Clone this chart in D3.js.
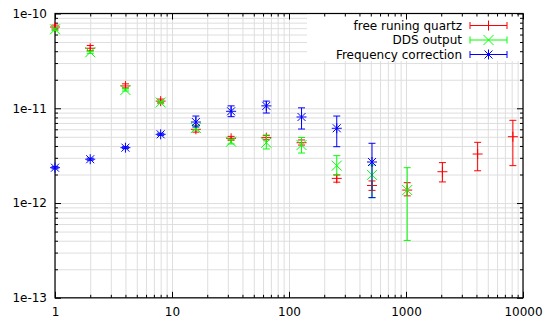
<!DOCTYPE html>
<html><head><meta charset="utf-8">
<script src="https://cdn.jsdelivr.net/npm/d3@7"></script>
<style>body{margin:0;background:#fff}svg{display:block}text{font-family:"DejaVu Sans",sans-serif;font-size:12px;fill:#000}</style>
</head><body><svg id="c" width="546" height="326"></svg>
<script>
const taus = [1,2,4,8,16,32,64,128,256,512,1024,2048,4096,8192];
const seriesNames = ["free runing quartz","DDS output","Frequency correction"];
const quartzVal  = [7.2e-11,4.3e-11,1.72e-11,1.19e-11,6.0e-12,4.82e-12,4.9e-12,4.33e-12,1.82e-12,1.53e-12,1.37e-12,2.14e-12,3.29e-12,5.01e-12];
const quartzLow  = [6.85e-11,4.05e-11,1.64e-11,1.14e-11,5.6e-12,4.6e-12,4.65e-12,4.09e-12,1.66e-12,1.36e-12,1.19e-12,1.67e-12,2.19e-12,2.48e-12];
const quartzHigh = [7.55e-11,4.6e-11,1.81e-11,1.25e-11,6.6e-12,5.05e-12,5.15e-12,4.63e-12,1.98e-12,1.71e-12,1.64e-12,2.67e-12,4.37e-12,7.46e-12];
const ddsVal  = [6.81e-11,3.90e-11,1.56e-11,1.15e-11,6.19e-12,4.44e-12,4.33e-12,4.09e-12,2.48e-12,1.98e-12,1.37e-12];
const ddsLow  = [6.6e-11,3.8e-11,1.52e-11,1.12e-11,5.9e-12,4.2e-12,3.72e-12,3.37e-12,1.98e-12,1.14e-12,4.03e-13];
const ddsHigh = [7.0e-11,4.0e-11,1.6e-11,1.18e-11,6.5e-12,4.7e-12,5.22e-12,4.92e-12,3.16e-12,2.52e-12,2.36e-12];
const corrVal  = [2.36e-12,2.90e-12,3.84e-12,5.31e-12,7.16e-12,9.29e-12,1.06e-11,8.09e-12,6.15e-12,2.71e-12];
const corrLow  = [2.30e-12,2.83e-12,3.75e-12,5.18e-12,6.34e-12,8.15e-12,8.91e-12,6.04e-12,3.93e-12,1.14e-12];
const corrHigh = [2.42e-12,2.97e-12,3.93e-12,5.45e-12,8.28e-12,1.06e-11,1.19e-11,1.01e-11,8.28e-12,4.27e-12];
const xMajor = [1,10,100,1000,10000];
const yMajor = [1e-13,1e-12,1e-11,1e-10];
const yLabels = ["1e-13","1e-12","1e-11","1e-10"];
const colors = ["#ff0000","#00ff00","#0000ff"];

const L=55, R=523, T=13.5, B=297.8;
const svg = d3.select("#c");
const x = d3.scaleLog().domain([1,10000]).range([L,R]);
const y = d3.scaleLog().domain([1e-13,1e-10]).range([B,T]);
const minors = (maj)=>{const m=[];for(let i=0;i<maj.length-1;i++)for(let k=2;k<=9;k++)m.push(maj[i]*k);return m;};
const xMinor = minors(xMajor), yMinor = minors(yMajor);
const xAll = xMajor.concat(xMinor), yAll = yMajor.concat(yMinor);

// grid
const grid = svg.append("g");
grid.append("g").attr("transform",`translate(0,${B})`)
  .call(d3.axisBottom(x).tickValues(xAll).tickSize(-(B-T)).tickFormat(""))
  .call(g=>{g.select(".domain").remove();g.selectAll("line").attr("stroke","#dedede");});
grid.append("g").attr("transform",`translate(${L},0)`)
  .call(d3.axisLeft(y).tickValues(yAll).tickSize(-(R-L)).tickFormat(""))
  .call(g=>{g.select(".domain").remove();g.selectAll("line").attr("stroke","#dedede");});

// legend box
svg.append("rect").attr("x",307).attr("y",T).attr("width",R-307).attr("height",61-T).attr("fill","#fff");

// axes ticks (inward, mirrored)
function styleAx(g){g.select(".domain").remove();g.selectAll("line").attr("stroke","#000");g.selectAll("text").style("font-family","DejaVu Sans").style("font-size","12px").attr("fill","#000");}
svg.append("g").attr("transform",`translate(0,${B})`).call(d3.axisBottom(x).tickValues(xMajor).tickSize(-6).tickPadding(10).tickFormat(d3.format("d"))).call(styleAx);
svg.append("g").attr("transform",`translate(0,${B})`).call(d3.axisBottom(x).tickValues(xMinor).tickSize(-3).tickFormat("")).call(styleAx);
svg.append("g").attr("transform",`translate(0,${T})`).call(d3.axisTop(x).tickValues(xMajor).tickSize(-6).tickFormat("")).call(styleAx);
svg.append("g").attr("transform",`translate(0,${T})`).call(d3.axisTop(x).tickValues(xMinor).tickSize(-3).tickFormat("")).call(styleAx);
svg.append("g").attr("transform",`translate(${L},0)`).call(d3.axisLeft(y).tickValues(yMajor).tickSize(-6).tickPadding(8).tickFormat((d,i)=>yLabels[i])).call(styleAx);
svg.append("g").attr("transform",`translate(${L},0)`).call(d3.axisLeft(y).tickValues(yMinor).tickSize(-3).tickFormat("")).call(styleAx);
svg.append("g").attr("transform",`translate(${R},0)`).call(d3.axisRight(y).tickValues(yMajor).tickSize(-6).tickFormat("")).call(styleAx);
svg.append("g").attr("transform",`translate(${R},0)`).call(d3.axisRight(y).tickValues(yMinor).tickSize(-3).tickFormat("")).call(styleAx);
svg.append("rect").attr("x",L).attr("y",T).attr("width",R-L).attr("height",B-T).attr("fill","none").attr("stroke","#000").attr("stroke-width",1.2);

// markers
const ms=5;
function marker(g,type,cx,cy,c){
  let d="";
  if(type===0||type===2) d+=`M${cx-ms},${cy}H${cx+ms}M${cx},${cy-ms}V${cy+ms}`;
  if(type===1||type===2){const s=type===1?ms:ms*0.8;d+=`M${cx-s},${cy-s}L${cx+s},${cy+s}M${cx-s},${cy+s}L${cx+s},${cy-s}`;}
  g.append("path").attr("d",d).attr("stroke",c).attr("stroke-width",1).attr("fill","none");
}
const series=[[quartzVal,quartzLow,quartzHigh],[ddsVal,ddsLow,ddsHigh],[corrVal,corrLow,corrHigh]];
const cap=3.5;
series.forEach((s,si)=>{
  const g=svg.append("g");
  s[0].forEach((v,i)=>{
    const cx=x(taus[i]), y0=y(s[1][i]), y1=y(s[2][i]);
    g.append("path").attr("d",`M${cx},${y0}V${y1}M${cx-cap},${y0}H${cx+cap}M${cx-cap},${y1}H${cx+cap}`)
      .attr("stroke",colors[si]).attr("stroke-width",1).attr("fill","none");
    marker(g,si,cx,y(v),colors[si]);
  });
});

// legend
const ly=[25.5,40,54.5];
seriesNames.forEach((n,i)=>{
  svg.append("text").attr("x",462).attr("y",ly[i]).attr("dy","0.35em").attr("text-anchor","end").text(n);
  const g=svg.append("g");
  g.append("path").attr("d",`M470,${ly[i]}H507M470,${ly[i]-cap}V${ly[i]+cap}M507,${ly[i]-cap}V${ly[i]+cap}`)
    .attr("stroke",colors[i]).attr("stroke-width",1).attr("fill","none");
  marker(g,i,488.5,ly[i],colors[i]);
});
</script></body></html>
